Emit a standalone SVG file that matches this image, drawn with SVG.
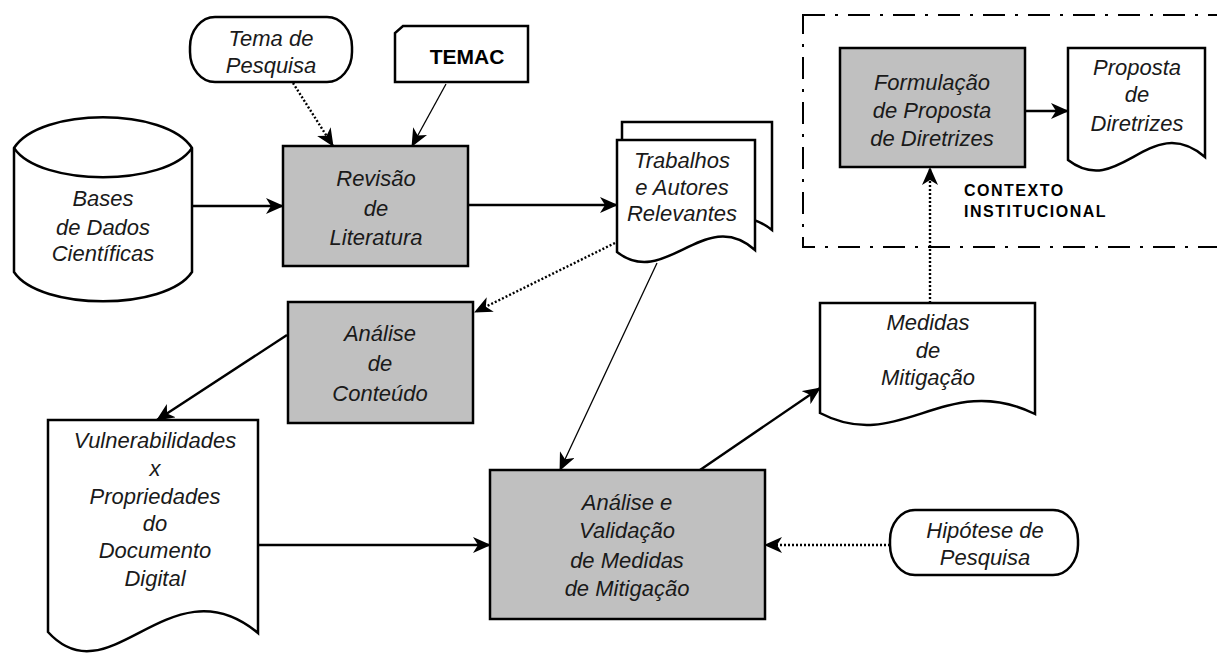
<svg xmlns="http://www.w3.org/2000/svg" width="1217" height="655" viewBox="0 0 1217 655">
<style>
.shape{stroke:#000;stroke-width:2.5;fill:#fff}
.proc{stroke:#000;stroke-width:2.5;fill:#c0c0c0}
.t{font-family:"Liberation Sans",Arial,sans-serif;font-style:italic;font-size:22px;fill:#1a1a1a;text-anchor:middle}
.b{font-family:"Liberation Sans",Arial,sans-serif;font-weight:bold;fill:#000}
.c{stroke:#000;stroke-width:2.4;fill:none}
.thin{stroke:#000;stroke-width:1.3;fill:none}
.dot{stroke:#000;stroke-width:2.4;fill:none;stroke-dasharray:2 2}
</style>
<defs>
<marker id="ah" markerWidth="18" markerHeight="16" refX="17" refY="8" orient="auto" markerUnits="userSpaceOnUse">
<path d="M0,0 L18,8 L0,16 L5,8 Z" fill="#000"/>
</marker>
</defs>
<rect id="contexto-box" x="803" y="15" width="430" height="232" fill="none" stroke="#000" stroke-width="2" stroke-dasharray="22 10 3 10"/>
<text class="b" font-size="16" letter-spacing="1.5" x="964" y="196">CONTEXTO</text>
<text class="b" font-size="16" letter-spacing="1.5" x="964" y="217">INSTITUCIONAL</text>
<g id="connectors">
<line class="c" x1="192" y1="206" x2="283" y2="206" marker-end="url(#ah)"/>
<line class="c" x1="468" y1="205" x2="617" y2="205" marker-end="url(#ah)"/>
<line class="dot" x1="293" y1="83" x2="333" y2="146" marker-end="url(#ah)"/>
<line class="thin" x1="446" y1="84" x2="412" y2="146" marker-end="url(#ah)"/>
<line class="dot" x1="615" y1="243" x2="475" y2="312" marker-end="url(#ah)"/>
<line class="c" x1="287" y1="335" x2="157" y2="420" marker-end="url(#ah)"/>
<line class="thin" x1="657" y1="263" x2="560" y2="470" marker-end="url(#ah)"/>
<line class="c" x1="258" y1="545" x2="490" y2="545" marker-end="url(#ah)"/>
<line class="dot" x1="890" y1="545" x2="765" y2="545" marker-end="url(#ah)"/>
<line class="c" x1="700" y1="470" x2="820" y2="388" marker-end="url(#ah)"/>
<line class="dot" x1="930" y1="303" x2="930" y2="168" marker-end="url(#ah)"/>
<line class="c" x1="1025" y1="111" x2="1068" y2="111" marker-end="url(#ah)"/>
</g>
<g id="tema">
<rect class="shape" x="190" y="17" width="162" height="65" rx="25" ry="30"/>
<text class="t" x="271" y="46">Tema de</text>
<text class="t" x="271" y="73">Pesquisa</text>
</g>
<g id="temac">
<path class="shape" d="M403,26 H528 V82 H395 V33 Z"/>
<text class="b" font-size="21" text-anchor="middle" x="467" y="64">TEMAC</text>
</g>
<g id="bases">
<path class="shape" d="M14,148 C40,107 166,107 192,148 V272 C166,311 40,311 14,272 Z"/>
<path class="c" stroke-width="2.5" d="M14,148 C40,187 166,187 192,148"/>
<text class="t" x="103" y="206">Bases</text>
<text class="t" x="103" y="235">de Dados</text>
<text class="t" x="103" y="261">Científicas</text>
</g>
<g id="revisao">
<rect class="proc" x="283" y="146" width="185" height="120"/>
<text class="t" x="376" y="186">Revisão</text>
<text class="t" x="376" y="216">de</text>
<text class="t" x="376" y="245">Literatura</text>
</g>
<g id="trabalhos">
<path class="shape" d="M622,122 H772 V230 C722,190 690,262 622,236 Z"/>
<path class="shape" d="M617,140 H755 V250 C705,205 665,290 617,252 Z"/>
<text class="t" x="682" y="168">Trabalhos</text>
<text class="t" x="682" y="195">e Autores</text>
<text class="t" x="682" y="221">Relevantes</text>
</g>
<g id="formulacao">
<rect class="proc" x="840" y="48" width="185" height="119"/>
<text class="t" x="932" y="90">Formulação</text>
<text class="t" x="932" y="118">de Proposta</text>
<text class="t" x="932" y="146">de Diretrizes</text>
</g>
<g id="proposta">
<path class="shape" d="M1068,48 H1205 V157 C1150,110 1120,200 1068,160 Z"/>
<text class="t" x="1137" y="75">Proposta</text>
<text class="t" x="1137" y="102">de</text>
<text class="t" x="1137" y="131">Diretrizes</text>
</g>
<g id="analise-conteudo">
<rect class="proc" x="288" y="302" width="185" height="121"/>
<text class="t" x="380" y="341">Análise</text>
<text class="t" x="380" y="371">de</text>
<text class="t" x="380" y="401">Conteúdo</text>
</g>
<g id="vulnerabilidades">
<path class="shape" d="M48,420 H258 V633 C170,560 110,700 48,632 Z"/>
<text class="t" x="155" y="448">Vulnerabilidades</text>
<text class="t" x="155" y="476">x</text>
<text class="t" x="155" y="504">Propriedades</text>
<text class="t" x="155" y="531">do</text>
<text class="t" x="155" y="558">Documento</text>
<text class="t" x="155" y="586">Digital</text>
</g>
<g id="medidas">
<path class="shape" d="M820,303 H1035 V414 C945,370 900,455 820,413 Z"/>
<text class="t" x="928" y="330">Medidas</text>
<text class="t" x="928" y="358">de</text>
<text class="t" x="928" y="385">Mitigação</text>
</g>
<g id="analise-validacao">
<rect class="proc" x="490" y="470" width="275" height="149"/>
<text class="t" x="627" y="510">Análise e</text>
<text class="t" x="627" y="538">Validação</text>
<text class="t" x="627" y="568">de Medidas</text>
<text class="t" x="627" y="596">de Mitigação</text>
</g>
<g id="hipotese">
<rect class="shape" x="890" y="510" width="188" height="65" rx="25" ry="30"/>
<text class="t" x="985" y="538">Hipótese de</text>
<text class="t" x="985" y="565">Pesquisa</text>
</g>
</svg>
